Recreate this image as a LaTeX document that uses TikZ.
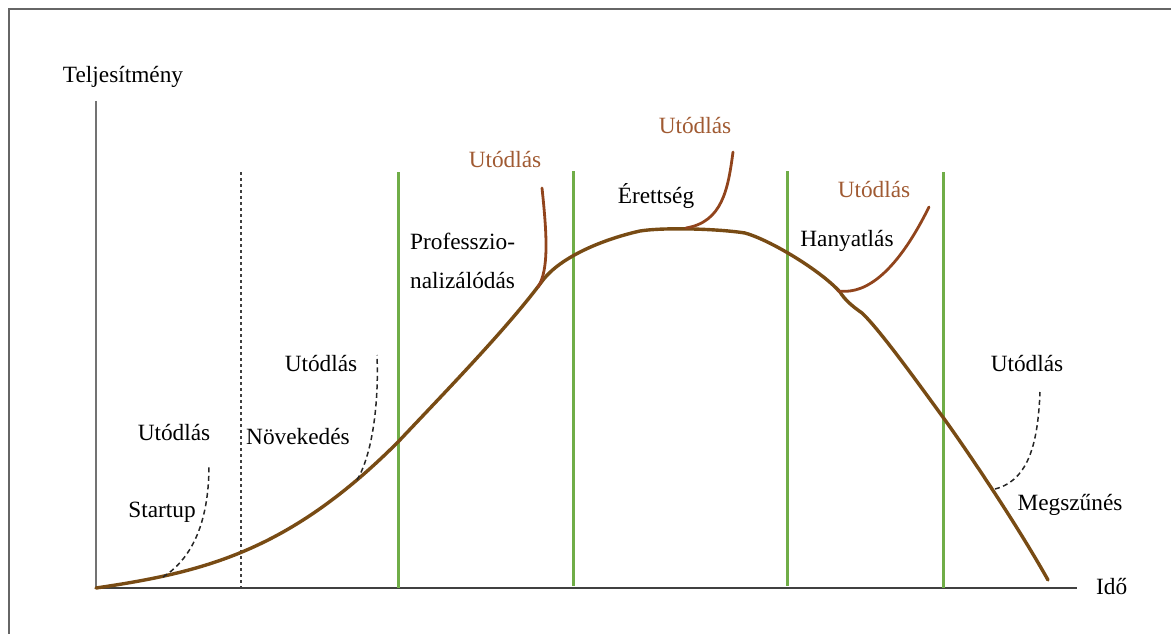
\documentclass[tikz,border=0pt]{standalone}
\usepackage{fontspec}
\setmainfont{Liberation Serif}
\begin{document}
\begin{tikzpicture}[x=1pt,y=-1pt,
  lbl/.style={font=\fontsize{23.3}{27}\selectfont, inner sep=0pt},
  blbl/.style={lbl, text=succtext},
  green line/.style={draw=phasegreen, line width=3pt},
  main curve/.style={draw=maincurve, line width=3.4pt, line cap=round, line join=round},
  succ solid/.style={draw=succbrown, line width=2.8pt, line cap=round},
  succ dashed/.style={draw=black!85, line width=1.5pt, dash pattern=on 5pt off 3.5pt},
  axis/.style={draw=black!55, line width=2.6pt}]
\definecolor{phasegreen}{RGB}{112,173,71}
\definecolor{maincurve}{RGB}{120,75,20}
\definecolor{succbrown}{RGB}{145,68,28}
\definecolor{succtext}{RGB}{160,90,50}
\useasboundingbox (0,0) rectangle (1171,634);
% frame
\draw[black!60, line width=1.6pt] (9,634) -- (9,9) -- (1171,9);
% axes
\coordinate (O) at (96,588);
\coordinate (ytop) at (96,101);
\coordinate (xend) at (1077,588);
\draw[axis] (ytop) -- (O);
\draw[black!75, line width=2.2pt] (O) -- (xend);
\node[lbl] (ylab) at (123,77) {Teljesítmény};
\node[lbl, anchor=west] (xlab) at (1096,587) {Idő};
% phase separators
\draw[black!75, line width=1.3pt, dash pattern=on 3pt off 3pt] (241,172) -- (241,588);
\draw[green line] (398,172) -- (398,588);
\draw[green line] (573,171) -- (573,586);
\draw[green line] (787,171) -- (787,586);
\draw[green line] (943,172) -- (943,588);
% main curve
\draw[main curve] (O)
  .. controls (205,572) and (289,551) .. (398,442)
  .. controls (450,387) and (510,325) .. (543,280)
  .. controls (560,258) and (600,240) .. (640,231)
  .. controls (665,227) and (720,229) .. (745,233)
  .. controls (770,240) and (820,270) .. (840,292)
  .. controls (845,300) and (852,306) .. (862,313)
  .. controls (880,330) and (918,383) .. (945,420)
  .. controls (975,462) and (1020,530) .. (1048,580);
% succession branches
\coordinate (s1) at (163,577);
\coordinate (s2) at (357,480);
\coordinate (s3) at (538,287);
\coordinate (s4) at (686,228);
\coordinate (s5) at (838,291);
\coordinate (s6) at (995,489);
\coordinate (e1) at (209,465);
\coordinate (e2) at (377,355);
\coordinate (e3) at (542,188);
\coordinate (e4) at (733,152);
\coordinate (e5) at (929,207);
\coordinate (e6) at (1040,392);
\draw[succ dashed] (s1) .. controls (196,556) and (209,515) .. (e1);
\draw[succ dashed] (s2) .. controls (372,455) and (379,405) .. (e2);
\draw[succ solid] (s3) .. controls (549,270) and (547,235) .. (e3);
\draw[succ solid] (s4) .. controls (722,222) and (728,190) .. (e4);
\draw[succ solid] (s5) .. controls (850,292) and (885,296) .. (e5);
\draw[succ dashed] (s6) .. controls (1030,480) and (1038,440) .. (e6);
% labels
\node[lbl] (u1) at (174,433) {Utódlás};
\node[lbl] (st) at (162,512) {Startup};
\node[lbl] (gr) at (298,437) {Növekedés};
\node[lbl] (u2) at (321,364) {Utódlás};
\node[lbl, anchor=west] (pr1) at (410,241) {Professzio-};
\node[lbl, anchor=west] (pr2) at (410,281) {nalizálódás};
\node[blbl] (u3) at (505,160) {Utódlás};
\node[blbl] (u4) at (695,126) {Utódlás};
\node[lbl] (mat) at (656,196) {Érettség};
\node[lbl] (dec) at (847,241) {Hanyatlás};
\node[blbl] (u5) at (874,190) {Utódlás};
\node[lbl] (u6) at (1027,364) {Utódlás};
\node[lbl] (end) at (1070,505) {Megszűnés};
\end{tikzpicture}
\end{document}
